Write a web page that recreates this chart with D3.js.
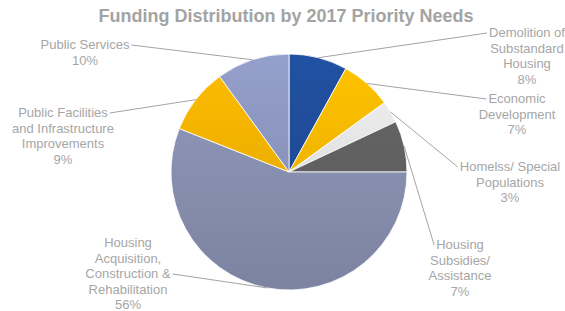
<!DOCTYPE html>
<html>
<head>
<meta charset="utf-8">
<script src="https://cdn.jsdelivr.net/npm/d3@7"></script>
<style>
  body { margin: 0; background: #fff; }
  text { font-family: "Liberation Sans", Arial, sans-serif; }
</style>
</head>
<body>
<div id="chart"></div>
<script>
// data, clockwise from 12 o'clock
const categories = [
  "Demolition of|Substandard|Housing",
  "Economic|Development",
  "Homelss/ Special|Populations",
  "Housing|Subsidies/|Assistance",
  "Housing|Acquisition,|Construction &|Rehabilitation",
  "Public Facilities|and Infrastructure|Improvements",
  "Public Services"
];
const shares = [8, 7, 3, 7, 56, 9, 10];
const colors = ["#1f4d9a", "#fbb900", "#e6e6e6", "#626262", "#8a92b3", "#f4b300", "#8c97c0"];

// label layout: centre x, first line y, side the leader attaches to, line it attaches to
const labelAt = [
  [527, 37, "left", 0], [517, 103, "left", 0], [510, 171, "left", 0],
  [460, 249, "left", 0], [128, 247, "right", 2], [63, 117, "right", 0], [85, 49, "right", 0]
];

const width = 565, height = 311;
const cx = 289, cy = 172, r = 118;

const svg = d3.select("#chart").append("svg")
  .attr("width", width)
  .attr("height", height);

const defs = svg.append("defs");
colors.forEach((c, i) => {
  const g = defs.append("linearGradient")
    .attr("id", "grad" + i)
    .attr("gradientUnits", "userSpaceOnUse")
    .attr("x1", 0).attr("y1", -r)
    .attr("x2", 0).attr("y2", r);
  g.append("stop").attr("offset", "0%").attr("stop-color", d3.color(c).brighter(0.15));
  g.append("stop").attr("offset", "100%").attr("stop-color", d3.color(c).darker(0.3));
});

svg.append("text")
  .attr("x", 286)
  .attr("y", 22)
  .attr("text-anchor", "middle")
  .style("font-size", "18px")
  .style("font-weight", "bold")
  .style("fill", "#a3a3a3")
  .text("Funding Distribution by 2017 Priority Needs");

const pie = d3.pie().value(d => d).sort(null);
const arcs = pie(shares);

const arc = d3.arc().innerRadius(0).outerRadius(r);
const edge = d3.arc().innerRadius(r).outerRadius(r);

const g = svg.append("g").attr("transform", `translate(${cx},${cy})`);

g.selectAll("path")
  .data(arcs)
  .enter().append("path")
  .attr("d", arc)
  .attr("fill", (d, i) => `url(#grad${i})`)
  .style("stroke", "rgba(255,255,255,0.8)")
  .style("stroke-width", 1);

// labels and leader lines
const lineH = 15.5;
arcs.forEach((d, i) => {
  const p = edge.centroid(d);
  const [lx, ly, side, li] = labelAt[i];
  const lines = categories[i].split("|");

  const tmp = svg.append("text").style("font-size", "13px").text(lines[li]);
  const w = tmp.node().getComputedTextLength();
  tmp.remove();
  const ax = side === "left" ? lx - w / 2 - 2 : lx + w / 2 + 2;
  const ay = ly + li * lineH - 4;

  svg.append("path")
    .attr("d", `M${ax},${ay}L${cx + p[0]},${cy + p[1]}`)
    .style("fill", "none")
    .style("stroke", "#8c8c8c")
    .style("stroke-width", 0.8);

  const t = svg.append("text")
    .attr("text-anchor", "middle")
    .style("font-size", "13px")
    .style("fill", "#a6a6a6");
  lines.concat([shares[i] + "%"]).forEach((s, k) => {
    t.append("tspan").attr("x", lx).attr("y", ly + k * lineH).text(s);
  });
});
</script>
</body>
</html>
